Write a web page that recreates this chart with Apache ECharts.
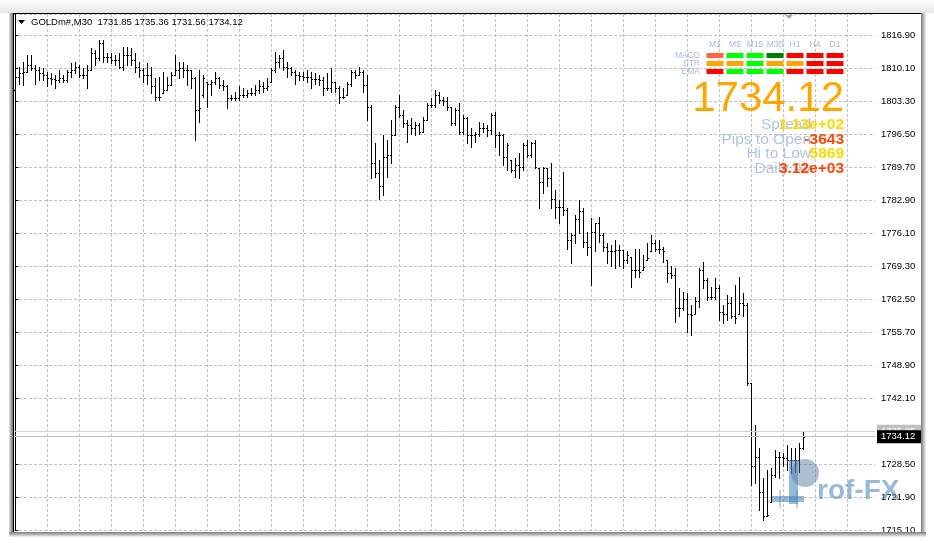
<!DOCTYPE html>
<html><head><meta charset="utf-8">
<script src="https://cdn.jsdelivr.net/npm/echarts@6/dist/echarts.min.js"></script>
<style>html,body{margin:0;padding:0;background:#fff}#c{width:934px;height:543px}</style>
</head><body><div id="c"></div>
<script>
const symbolTitle = 'GOLDm#,M30  1731.85 1735.36 1731.56 1734.12';

const opens = [
1805.5,1808.3,1809.0,1809.3,1810.7,1810.0,1809.7,1809.1,1808.7,1808.0,
1807.8,1807.6,1808.0,1807.6,1809.3,1809.7,1810.4,1808.7,1808.7,1809.7,
1813.1,1812.1,1815.2,1812.4,1812.4,1811.8,1811.8,1810.4,1812.8,1812.8,
1811.8,1810.4,1809.7,1808.7,1808.7,1806.3,1804.2,1804.9,1805.6,1806.6,
1808.7,1809.7,1810.0,1809.7,1809.7,1808.0,1801.4,1804.5,1807.3,1806.9,
1807.3,1808.0,1806.6,1806.3,1803.9,1803.9,1803.9,1804.5,1804.5,1804.9,
1804.9,1805.6,1806.3,1805.9,1807.3,1809.7,1811.4,1812.1,1810.4,1810.0,
1809.3,1808.7,1808.5,1808.3,1808.2,1807.8,1807.8,1807.6,1805.9,1805.9,
1807.3,1805.9,1804.2,1804.5,1806.9,1809.3,1808.7,1809.3,1806.6,1802.1,
1790.5,1788.4,1785.7,1791.8,1792.2,1796.3,1802.1,1800.4,1798.7,1798.4,
1797.7,1798.4,1797.0,1799.4,1802.5,1802.5,1804.5,1803.5,1803.2,1802.1,
1798.7,1801.4,1797.0,1799.7,1796.3,1796.3,1796.6,1797.7,1797.7,1797.3,
1800.4,1796.3,1796.3,1791.8,1791.1,1789.1,1790.1,1789.8,1794.3,1792.2,
1794.6,1789.4,1786.7,1789.4,1787.4,1783.2,1781.5,1781.5,1780.8,1774.7,
1775.7,1778.9,1780.6,1774.3,1773.3,1776.4,1778.1,1775.7,1773.3,1772.4,
1772.3,1772.6,1772.6,1770.5,1771.2,1768.5,1768.5,1768.5,1770.5,1772.3,
1774.0,1772.9,1772.9,1770.5,1767.8,1767.4,1760.6,1760.6,1762.6,1759.5,
1759.5,1762.0,1768.5,1766.4,1763.0,1763.0,1764.7,1759.9,1759.5,1761.6,
1758.9,1759.5,1761.6,1761.3,1745.1,1728.0,1730.0,1722.8,1717.7,1720.7,
1726.2,1730.0,1730.0,1729.7,1729.3,1729.3,1729.3,1731.85];

const highs = [
1808.7,1810.4,1811.4,1812.8,1812.8,1810.7,1810.4,1810.0,1809.3,1809.0,
1808.7,1809.7,1808.7,1809.7,1811.1,1811.4,1810.7,1810.0,1810.7,1814.2,
1813.8,1815.9,1815.9,1813.1,1813.1,1812.8,1813.1,1814.5,1814.5,1814.2,
1813.1,1811.4,1810.0,1811.1,1810.4,1808.0,1808.3,1809.3,1808.3,1809.3,
1812.8,1811.4,1811.4,1810.7,1809.7,1808.3,1809.7,1808.7,1807.3,1807.6,
1809.3,1808.3,1807.6,1806.6,1804.5,1805.2,1806.3,1805.9,1805.6,1805.9,
1806.6,1807.6,1807.3,1808.0,1810.0,1813.5,1812.8,1813.8,1811.4,1810.4,
1809.7,1809.3,1809.3,1809.7,1809.3,1809.0,1808.7,1808.3,1809.0,1810.0,
1807.3,1806.3,1805.9,1807.3,1809.7,1809.7,1810.4,1809.7,1808.7,1802.5,
1794.6,1791.1,1796.3,1795.3,1799.4,1802.5,1804.5,1801.4,1799.4,1799.7,
1799.0,1798.7,1800.1,1802.8,1803.9,1805.6,1805.2,1804.2,1804.2,1802.1,
1801.8,1802.8,1800.4,1800.1,1797.7,1797.0,1799.0,1798.7,1798.4,1800.8,
1801.1,1797.0,1796.6,1794.6,1791.1,1791.5,1792.5,1794.6,1795.3,1794.9,
1795.3,1789.4,1789.8,1789.4,1790.5,1785.0,1782.9,1788.7,1781.2,1776.0,
1779.8,1783.0,1781.2,1776.4,1779.1,1778.2,1779.5,1776.0,1774.1,1773.6,
1774.7,1773.6,1772.6,1772.3,1771.2,1772.9,1772.9,1771.6,1774.0,1775.7,
1774.7,1774.7,1773.3,1770.5,1769.2,1768.8,1764.7,1764.0,1763.7,1761.3,
1763.0,1768.8,1770.2,1766.8,1765.0,1766.8,1765.4,1761.3,1763.3,1763.0,
1765.4,1767.1,1763.7,1761.6,1745.1,1736.5,1731.7,1725.6,1727.3,1727.6,
1731.4,1731.0,1730.7,1732.4,1731.7,1731.7,1732.8,1735.36];

const lows = [
1803.2,1806.9,1806.6,1809.3,1809.7,1806.9,1807.6,1807.6,1806.3,1806.9,
1805.9,1807.3,1807.3,1807.3,1808.3,1809.0,1808.3,1808.0,1805.9,1809.7,
1810.7,1811.8,1811.4,1811.4,1811.1,1810.7,1810.0,1809.7,1810.7,1810.7,
1809.3,1808.3,1807.3,1806.9,1804.9,1803.5,1803.5,1804.9,1805.6,1806.6,
1808.7,1808.0,1808.3,1806.6,1805.9,1795.3,1799.0,1804.2,1802.1,1804.5,
1806.9,1805.9,1805.6,1801.8,1803.5,1803.5,1803.5,1804.2,1804.2,1804.5,
1804.5,1804.9,1805.2,1805.6,1807.3,1809.3,1810.4,1809.7,1808.3,1808.7,
1806.9,1807.6,1807.6,1807.3,1805.9,1806.9,1806.6,1804.5,1805.6,1805.2,
1805.2,1802.8,1803.9,1804.5,1806.3,1808.0,1808.7,1805.2,1799.4,1787.4,
1787.7,1783.2,1784.0,1787.7,1790.5,1796.3,1800.1,1798.0,1794.9,1796.6,
1796.3,1796.6,1797.0,1799.4,1802.1,1802.1,1802.8,1802.5,1801.4,1798.4,
1798.4,1796.6,1796.6,1794.6,1793.9,1794.9,1796.0,1797.0,1796.0,1796.6,
1793.9,1792.2,1790.1,1789.1,1788.7,1787.7,1787.4,1789.1,1791.8,1791.8,
1789.4,1781.2,1784.3,1785.7,1781.2,1779.1,1778.1,1779.8,1772.9,1769.9,
1774.0,1776.0,1773.3,1771.6,1765.4,1772.3,1774.3,1772.3,1770.0,1769.2,
1768.8,1769.2,1768.8,1769.9,1765.0,1767.1,1767.1,1768.5,1770.5,1772.3,
1772.3,1771.9,1770.2,1766.1,1766.8,1757.8,1758.9,1760.2,1755.8,1755.1,
1759.5,1760.9,1764.7,1762.3,1762.6,1762.6,1758.2,1757.5,1758.2,1758.5,
1757.5,1759.5,1758.9,1744.8,1724.2,1724.5,1719.0,1717.0,1717.7,1720.7,
1725.9,1725.6,1728.0,1727.3,1726.6,1726.9,1726.9,1731.56];

const closes = [
1808.3,1809.0,1809.3,1810.7,1810.0,1809.7,1809.1,1808.7,1808.0,1807.8,
1807.6,1808.0,1807.6,1809.3,1809.7,1810.4,1808.7,1808.7,1809.7,1813.1,
1812.1,1815.2,1812.4,1812.4,1811.8,1811.8,1810.4,1812.8,1812.8,1811.8,
1810.4,1809.7,1808.7,1808.7,1806.3,1804.2,1804.2,1805.6,1806.6,1808.7,
1809.7,1810.0,1809.7,1809.7,1808.0,1801.4,1801.8,1808.0,1806.9,1807.3,
1808.0,1806.6,1806.3,1803.9,1803.9,1803.9,1804.5,1804.5,1804.9,1804.9,
1805.6,1806.3,1805.9,1806.3,1809.7,1811.4,1812.1,1810.4,1810.0,1809.3,
1808.7,1808.5,1808.3,1808.2,1807.8,1807.8,1807.6,1805.9,1805.9,1807.3,
1805.9,1804.2,1804.2,1806.9,1809.3,1808.7,1809.3,1806.6,1802.1,1790.5,
1788.4,1785.7,1791.8,1792.2,1796.3,1802.1,1800.4,1798.7,1798.4,1797.7,
1798.4,1797.0,1799.4,1802.5,1802.5,1804.5,1803.5,1803.2,1802.1,1798.7,
1801.4,1797.0,1799.7,1796.3,1796.3,1796.6,1797.7,1797.7,1797.3,1800.4,
1796.3,1796.3,1791.8,1794.2,1789.1,1790.1,1789.8,1794.3,1792.2,1794.6,
1789.6,1786.7,1789.4,1787.4,1783.2,1781.5,1781.5,1780.8,1774.7,1775.7,
1778.9,1780.6,1774.3,1773.3,1776.4,1778.1,1775.7,1773.3,1772.4,1772.3,
1772.6,1772.6,1770.5,1771.6,1768.5,1768.5,1768.1,1769.0,1770.9,1774.0,
1772.9,1772.9,1772.3,1767.8,1767.4,1760.6,1760.6,1762.6,1759.5,1759.2,
1762.0,1768.5,1766.4,1763.0,1763.0,1764.7,1759.9,1759.5,1761.6,1758.9,
1758.5,1761.6,1761.3,1745.1,1728.0,1730.0,1722.8,1717.7,1718.0,1726.2,
1730.0,1730.0,1729.7,1729.3,1729.3,1729.3,1731.7,1734.12];

// price scale (grid every 6.8 from the bottom line)
const yMin = 1714.9, yStep = 6.8, yMax = 1821.23;
const yTickLabels = ['1715.10','1721.90','1728.50','','1742.10','1748.90','1755.70','1762.50',
  '1769.30','1776.10','1782.90','1789.70','1796.50','1803.30','1810.10','1816.90'];
// vertical grid lines every 8 bars
const gridBars = [8,16,24,32,40,48,56,64,72,80,88,96,104,112,120,128,136,144,152,160,168,176,184,192,200,208];

const bidPrice = 1734.12, askPrice = 1735.25;

// indicator panel
const tfLabels = ['M1','M5','M15','M30','H1','H4','D1'];
const signalRows = ['MACD','STR','EMA'];
const signalColors = [
  ['#FF6347','#00FF00','#00FF00','#008000','#FF0000','#FF0000','#FF0000'],
  ['#FFA500','#FFA500','#00FF00','#FFA500','#FFA500','#FF0000','#FF0000'],
  ['#FF0000','#00FF00','#00FF00','#00FF00','#FF0000','#FF0000','#FF0000']
];
const bigPrice = '1734.12';
const statLabels = ['Spread','Pips to Open','Hi to Low','Daily Av'];
const statValues = ['1.13e+02','-3643','5869','3.12e+03'];
const statColors = ['#FFD700','#FF4500','#FFD700','#FF4500'];

const FONT = '"Liberation Sans", Arial, sans-serif';
const ohlcData = opens.map((o, i) => [i, o, highs[i], lows[i], closes[i]]);

const chart = echarts.init(document.getElementById('c'), null, {renderer: 'canvas'});

const graphic = [];
// window frame
graphic.push({type:'rect', z:100, shape:{x:0,y:0,width:934,height:13},
  style:{fill:new echarts.graphic.LinearGradient(0,0,0,1,[{offset:0,color:'#ffffff'},{offset:1,color:'#e6e6e6'}])}});
graphic.push({type:'rect', z:100, shape:{x:9,y:13,width:4,height:523},
  style:{fill:new echarts.graphic.LinearGradient(0,0,1,0,[{offset:0,color:'#e8e8e8'},{offset:1,color:'#6a6a6a'}])}});
graphic.push({type:'rect', z:100, shape:{x:13,y:13,width:908,height:1}, style:{fill:'#000'}});
graphic.push({type:'rect', z:100, shape:{x:13,y:13,width:1,height:519}, style:{fill:'#000'}});
graphic.push({type:'rect', z:100, shape:{x:921,y:13,width:5,height:523},
  style:{fill:new echarts.graphic.LinearGradient(0,0,1,0,[{offset:0,color:'#7a7a7a'},{offset:1,color:'#f2f2f2'}])}});
graphic.push({type:'rect', z:100, shape:{x:9,y:532,width:917,height:5},
  style:{fill:new echarts.graphic.LinearGradient(0,0,0,1,[{offset:0,color:'#7a7a7a'},{offset:1,color:'#f2f2f2'}])}});
graphic.push({type:'rect', z:100, shape:{x:0,y:537,width:934,height:6}, style:{fill:'#ffffff'}});
graphic.push({type:'rect', z:100, shape:{x:926,y:13,width:8,height:530}, style:{fill:'#ffffff'}});
// chart shift marker
graphic.push({type:'polygon', z:100, shape:{points:[[785,15],[793,15],[789,19]]}, style:{fill:'#a8a8a8'}});
// title
graphic.push({type:'polygon', z:100, shape:{points:[[18,20],[25,20],[21.5,24]]}, style:{fill:'#000'}});
graphic.push({type:'text', z:100, x:31, y:22, style:{text:symbolTitle, fontSize:9.5, fontFamily:FONT, fill:'#000', align:'left', verticalAlign:'middle'}});

// indicator headers / rows
tfLabels.forEach((t, k) => {
  graphic.push({type:'text', z:100, x:715 + 20*k, y:45, style:{text:t, fontSize:8.5, fontFamily:FONT, fill:'#A9BCD6', align:'center', verticalAlign:'middle'}});
});
signalRows.forEach((r, j) => {
  graphic.push({type:'text', z:100, x:700, y:55.5 + 8*j, style:{text:r, fontSize:8.5, fontFamily:FONT, fill:'#A9BCD6', align:'right', verticalAlign:'middle'}});
  signalColors[j].forEach((col, k) => {
    graphic.push({type:'rect', z:100, shape:{x:706.5 + 20*k, y:53 + 8*j, width:17, height:5}, style:{fill:col}});
  });
});
graphic.push({type:'text', z:100, x:844, y:99, style:{text:bigPrice, fontSize:42, fontFamily:FONT, fill:'#FFA500', align:'right', verticalAlign:'middle'}});
statLabels.forEach((s, j) => {
  graphic.push({type:'text', z:100, x:811, y:125 + 14.5*j, style:{text:s, fontSize:15.5, fontFamily:FONT, fill:'#B0C4DE', align:'right', verticalAlign:'middle'}});
  graphic.push({type:'text', z:101, x:844, y:125 + 14.5*j, style:{text:statValues[j], fontSize:15.5, fontWeight:'bold', fontFamily:FONT, fill:statColors[j], align:'right', verticalAlign:'middle'}});
});
// watermark
const wm = 'rgba(70,130,180,0.55)';
graphic.push({type:'circle', z:100, shape:{cx:805, cy:473, r:14}, style:{fill:'rgba(70,110,150,0.45)'}});
graphic.push({type:'rect', z:100, shape:{x:789, y:460, width:9, height:44}, style:{fill:wm}});
graphic.push({type:'rect', z:100, shape:{x:772, y:496, width:32, height:6}, style:{fill:wm}});
graphic.push({type:'rect', z:100, shape:{x:779, y:490, width:2, height:18}, style:{fill:'rgba(70,130,180,0.35)'}});
graphic.push({type:'rect', z:100, shape:{x:796, y:490, width:2, height:18}, style:{fill:'rgba(70,130,180,0.35)'}});
graphic.push({type:'text', z:100, x:817, y:491, style:{text:'rof-FX', fontSize:28, fontWeight:'bold', fontFamily:FONT, fill:wm, align:'left', verticalAlign:'middle'}});

chart.setOption({
  animation: false,
  backgroundColor: '#ffffff',
  grid: {left: 14, right: 59, top: 14, bottom: 13, containLabel: false},
  xAxis: {type:'value', min:-0.325, max:214.925, show:false},
  yAxis: {
    type:'value', position:'right', min:yMin, max:yMax, interval:yStep, scale:true,
    axisLine:{show:true, lineStyle:{color:'#000', width:1}},
    axisTick:{show:true, inside:false, length:3, lineStyle:{color:'#000'}},
    axisLabel:{margin:6, color:'#000', fontSize:9.5, fontFamily:FONT, showMaxLabel:false, showMinLabel:true,
      formatter: v => { const k = Math.round((v - yMin) / yStep); return yTickLabels[k] || ''; }},
    splitLine:{show:true, lineStyle:{color:'#c0c0c0', width:1, type:[3,2]}}
  },
  graphic: graphic,
  series: [
    {
      type:'custom', silent:true, z:1, clip:true,
      data: gridBars.map(v => [v]),
      renderItem: (params, api) => {
        const p = api.coord([api.value(0), yMin]);
        const cs = params.coordSys;
        const x = Math.round(p[0]) + 0.5;
        return {type:'line', shape:{x1:x, y1:cs.y, x2:x, y2:cs.y + cs.height},
          style:{stroke:'#c0c0c0', lineWidth:1, lineDash:[3,2]}};
      }
    },
    {
      type:'line', data:[], silent:true, z:2,
      markLine: {
        silent:true, symbol:['none','none'], animation:false,
        data: [
          {yAxis: askPrice, lineStyle:{color:'#d4d4d4', type:'solid', width:1},
           label:{show:true, position:'end', distance:2, formatter: () => askPrice.toFixed(2), color:'#ffffff', backgroundColor:'#c0c0c0', padding:[2,6,1,4], fontSize:9.5, fontFamily:FONT}},
          {yAxis: bidPrice, lineStyle:{color:'#c0c0c0', type:'solid', width:1},
           label:{show:true, position:'end', distance:2, formatter: () => bidPrice.toFixed(2), color:'#ffffff', backgroundColor:'#000000', padding:[2,6,1,4], fontSize:9.5, fontFamily:FONT}}
        ]
      }
    },
    {
      type:'custom', silent:true, z:3, clip:false,
      data: ohlcData,
      renderItem: (params, api) => {
        const x = api.value(0);
        const o = api.coord([x, api.value(1)]);
        const h = api.coord([x, api.value(2)]);
        const l = api.coord([x, api.value(3)]);
        const c = api.coord([x, api.value(4)]);
        const px = Math.round(o[0]);
        const yh = Math.round(h[1]), yl = Math.round(l[1]);
        return {type:'group', children:[
          {type:'rect', shape:{x:px, y:yh, width:1, height:Math.max(1, yl - yh + 1)}, style:{fill:'#000'}},
          {type:'rect', shape:{x:px-1, y:Math.round(o[1]), width:1, height:1}, style:{fill:'#000'}},
          {type:'rect', shape:{x:px+1, y:Math.round(c[1]), width:1, height:1}, style:{fill:'#000'}}
        ]};
      }
    }
  ]
});
</script>
</body></html>
